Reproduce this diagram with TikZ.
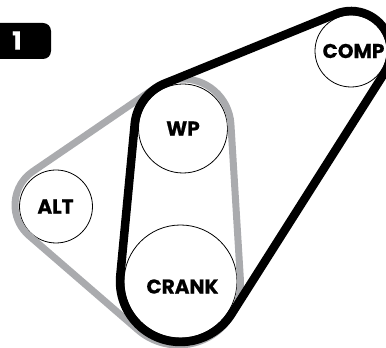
\documentclass[tikz,border=0pt]{standalone}
\usepackage{fontspec}
\setmainfont{Poppins}
\newfontfamily\labfont[FakeBold=0.6]{Poppins Bold}
\definecolor{beltgray}{RGB}{170,171,174}
\tikzset{
  pulley/.style={circle,draw=black,line width=0.8pt,inner sep=0pt},
  plabel/.style={font=\fontsize{20}{20}\selectfont\labfont,inner sep=0pt,anchor=center},
  beltblack/.style={draw=black,line width=8.5pt,line join=round},
  beltgrey/.style={draw=beltgray,line width=7pt,line join=round}
}
\usetikzlibrary{calc}
\begin{document}
\begin{tikzpicture}[x=1pt,y=1pt]
\useasboundingbox (0,0) rectangle (386,348);
\clip (0,0) rectangle (386,348);
\fill[black] (0,325) -- (43,325) arc[start angle=90,end angle=0,radius=8pt] -- (51,297) arc[start angle=0,end angle=-90,radius=8pt] -- (0,289) -- cycle;
\node[text=white,font=\fontsize{25}{25}\selectfont\labfont,inner sep=0pt] (badge) at (17,307.5) {1};
\node[pulley,minimum size=113pt] (C) at (180.5,66.5) {};
\node[pulley,minimum size=89pt] (W) at (183,219.5) {};
\node[pulley,minimum size=72pt] (K) at (351,297) {};
\node[pulley,minimum size=73pt] (A) at (56,141.5) {};
\node[plabel] (Ct) at (182.5,61.5) {CRANK};
\node[plabel] (Wt) at (183,219.5) {WP};
\node[plabel] (Kt) at (353.5,297) {COMP};
\node[plabel] (At) at (55.5,141.5) {ALT};
% centres of the grey belt's bends
\coordinate (Cg) at (178.5,65);
\coordinate (Wg) at (183,221);
\coordinate (Ag) at (55.5,143);
\draw[beltgrey] ($(Wg)+(125.2:48pt)$) -- ($(Ag)+(125.2:40.5pt)$)
  arc[start angle=125.2,end angle=229.3,radius=40.5pt]
  -- ($(Cg)+(229.3:62pt)$)
  arc[start angle=229.3,end angle=363.7,radius=62pt]
  -- ($(Wg)+(3.7:48pt)$)
  arc[start angle=3.7,end angle=125.2,radius=48pt] -- cycle;
\draw[beltblack] ($(C)+(174.56:60.5pt)$) -- ($(W)+(174.56:48.5pt)$)
  arc[start angle=174.56,end angle=112.13,radius=48.5pt]
  -- ($(K)+(112.13:40pt)$)
  arc[start angle=112.13,end angle=-32.4,radius=40pt]
  -- ($(C)+(-32.4:60.5pt)$)
  arc[start angle=-32.4,end angle=-185.44,radius=60.5pt] -- cycle;
\end{tikzpicture}
\end{document}
